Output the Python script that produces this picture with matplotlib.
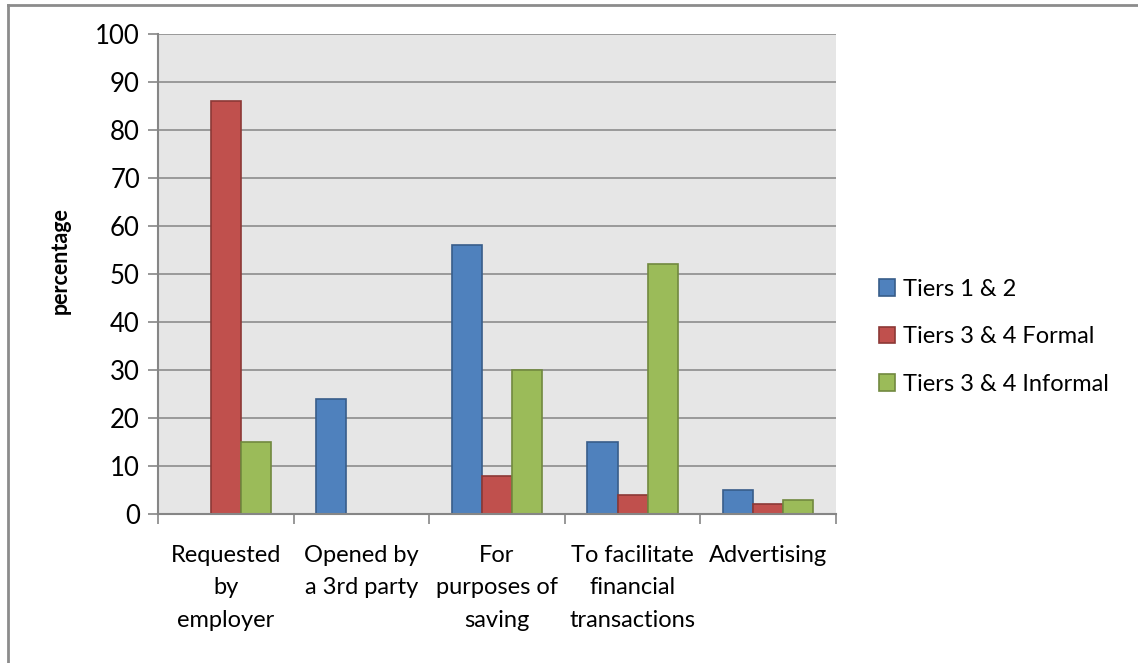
import matplotlib
matplotlib.use("Agg")
import matplotlib.pyplot as plt
import numpy as np
from matplotlib.lines import Line2D

categories = ["Requested\nby\nemployer", "Opened by\na 3rd party", "For\npurposes of\nsaving",
              "To facilitate\nfinancial\ntransactions", "Advertising"]
series_names = ["Tiers 1 & 2", "Tiers 3 & 4 Formal", "Tiers 3 & 4 Informal"]
tiers12 = [0, 24, 56, 15, 5]
tiers34_formal = [86, 0, 8, 4, 2]
tiers34_informal = [15, 0, 30, 52, 3]
yticks = list(range(0, 101, 10))

colors = ["#4F81BD", "#C0504D", "#9BBB59"]
edges = ["#385D8A", "#8C3836", "#71893F"]

plt.rcParams['font.family'] = ['Lato', 'DejaVu Sans']

W, H = 1138, 663
fig = plt.figure(figsize=(W / 100, H / 100), dpi=100)
fig.lines.append(Line2D([8 / W, 8 / W], [0, 1 - 5 / H], transform=fig.transFigure,
                        color="#8c8c8c", linewidth=2))
fig.lines.append(Line2D([8 / W, 1], [1 - 5 / H, 1 - 5 / H], transform=fig.transFigure,
                        color="#8c8c8c", linewidth=2))
ax = fig.add_axes([158 / W, 1 - 514 / H, 678 / W, 480 / H])
ax.set_facecolor("#E6E6E6")

x = np.arange(len(categories))
w = 0.222
for i, (vals, c, e, name) in enumerate(zip([tiers12, tiers34_formal, tiers34_informal], colors, edges, series_names)):
    hv = [v if v > 0 else np.nan for v in vals]
    ax.bar(x + (i - 1) * w, hv, width=w, color=c, edgecolor=e, linewidth=1.2, label=name, zorder=3)

ax.set_xlim(-0.5, len(categories) - 0.5)
ax.set_ylim(0, 100)
ax.set_yticks(yticks)
ax.tick_params(axis='y', length=7, width=1.2, color="#868686", labelsize=18.5, pad=6)
ax.yaxis.grid(True, color="#8c8c8c", linewidth=1.2, zorder=0)
ax.set_axisbelow(True)

ax.set_xticks(np.arange(-0.5, len(categories) + 0.5, 1))
ax.set_xticklabels([])
ax.set_xticks(x, minor=True)
ax.set_xticklabels(categories, minor=True, fontsize=17, linespacing=1.7)
ax.tick_params(axis='x', which='minor', length=0, pad=22)
ax.tick_params(axis='x', which='major', length=7, width=1.2, color="#868686")

for s in ["top", "right"]:
    ax.spines[s].set_visible(False)
for s in ["left", "bottom"]:
    ax.spines[s].set_color("#868686")
    ax.spines[s].set_linewidth(1.5)
    ax.spines[s].set_zorder(4)

ax.set_ylabel("percentage", fontsize=15.5, fontweight="bold")
ax.yaxis.set_label_coords(-0.128, 0.529)

leg = ax.legend(loc="center left", bbox_to_anchor=(1.032, 0.369), frameon=False, fontsize=17,
                handlelength=0.7, handleheight=0.7, handletextpad=0.3, labelspacing=1.12)

fig.savefig("out.png", dpi=100)
